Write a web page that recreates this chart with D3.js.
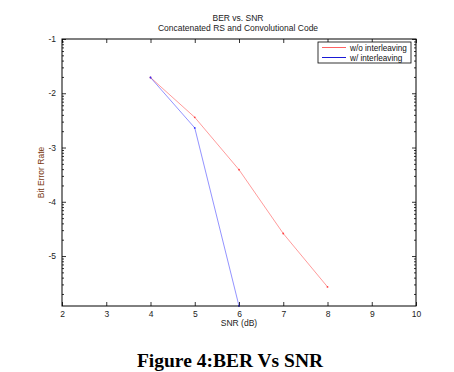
<!DOCTYPE html>
<html><head><meta charset="utf-8">
<script src="https://cdn.jsdelivr.net/npm/d3@7"></script>
<style>body{margin:0;background:#fff}svg{display:block}</style>
</head><body>
<svg id="c" width="454" height="372"></svg>
<script>
const snr = [4, 5, 6, 7, 8];
const berNoInterleave = [1.95e-2, 3.6e-3, 3.9e-4, 2.6e-5, 2.7e-6];
const snrInterleave = [4, 5, 6];
const berInterleave = [1.95e-2, 2.3e-3, 1.2e-6];
const xTicks = [2, 3, 4, 5, 6, 7, 8, 9, 10];
const yTicks = [1e-1, 1e-2, 1e-3, 1e-4, 1e-5];
const yTickLabels = ["-1", "-2", "-3", "-4", "-5"];
const seriesNames = ["w/o interleaving", "w/ interleaving"];
const titleLines = ["BER vs. SNR", "Concatenated RS and Convolutional Code"];
const xLabel = "SNR (dB)";
const yLabel = "Bit Error Rate";
const caption = "Figure 4:BER Vs SNR";

const svg = d3.select("#c");
const L = 62, R = 416, T = 39, B = 306;
const x = d3.scaleLinear().domain([2, 10]).range([L, R]);
const y = d3.scaleLog().domain([1.2e-6, 1e-1]).range([B, T]);
const font = "Liberation Sans, Arial, sans-serif";

// minor ticks
const minor = [];
for (let e = -6; e <= -2; e++) for (let k = 2; k <= 9; k++) {
  const v = k * Math.pow(10, e);
  if (v >= y.domain()[0] && v <= 1e-1) minor.push(v);
}
const g = svg.append("g");
const yAxisL = d3.axisLeft(y).tickValues(yTicks).tickSize(-4).tickPadding(6).tickFormat((d, i) => yTickLabels[i]);
const yAxisLMinor = d3.axisLeft(y).tickValues(minor).tickSize(-2).tickFormat("");
const yAxisR = d3.axisRight(y).tickValues(yTicks).tickSize(-4).tickFormat("");
const yAxisRMinor = d3.axisRight(y).tickValues(minor).tickSize(-2).tickFormat("");
const xAxisB = d3.axisBottom(x).tickValues(xTicks).tickSize(-4).tickPadding(5).tickFormat(d3.format("d"));
const xAxisT = d3.axisTop(x).tickValues(xTicks).tickSize(-4).tickFormat("");

function styleAxis(sel) {
  sel.select(".domain").remove();
  sel.selectAll("line").attr("stroke", "#000").attr("stroke-width", 0.8);
  sel.selectAll("text").attr("font-family", font).attr("font-size", 8.5).attr("fill", "#222");
}
g.append("g").attr("transform", `translate(${L},0)`).call(yAxisL).call(styleAxis);
g.append("g").attr("transform", `translate(${L},0)`).call(yAxisLMinor).call(styleAxis);
g.append("g").attr("transform", `translate(${R},0)`).call(yAxisR).call(styleAxis);
g.append("g").attr("transform", `translate(${R},0)`).call(yAxisRMinor).call(styleAxis);
g.append("g").attr("transform", `translate(0,${B})`).call(xAxisB).call(styleAxis);
g.append("g").attr("transform", `translate(0,${T})`).call(xAxisT).call(styleAxis);

// series
const line = d3.line().x(d => x(d[0])).y(d => y(d[1]));
const s1 = snr.map((v, i) => [v, berNoInterleave[i]]);
const s2 = snrInterleave.map((v, i) => [v, berInterleave[i]]);
const colors = ["#ff4040", "#3030ff"];
[s1, s2].forEach((s, i) => {
  svg.append("path").datum(s).attr("d", line).attr("fill", "none")
    .attr("stroke", colors[i]).attr("stroke-width", 0.7).attr("stroke-opacity", 0.75);
  svg.selectAll(null).data(s).enter().append("circle")
    .attr("cx", d => x(d[0])).attr("cy", d => y(d[1])).attr("r", 0.9).attr("fill", colors[i]);
});

// frame
svg.append("rect").attr("x", L).attr("y", T).attr("width", R - L).attr("height", B - T)
  .attr("fill", "none").attr("stroke", "#000").attr("stroke-width", 1);

// legend
const lg = svg.append("g");
lg.append("rect").attr("x", 318).attr("y", 42).attr("width", 93).attr("height", 21)
  .attr("fill", "#fff").attr("stroke", "#000").attr("stroke-width", 0.8);
const legColors = ["#ff5050", "#0000d0"];
seriesNames.forEach((n, i) => {
  const yy = 47.5 + i * 10;
  lg.append("line").attr("x1", 322).attr("x2", 346).attr("y1", yy).attr("y2", yy)
    .attr("stroke", legColors[i]).attr("stroke-width", 0.9);
  lg.append("text").attr("x", 350).attr("y", yy + 3).attr("font-family", font)
    .attr("font-size", 8.2).attr("fill", "#111").text(n);
});

// titles
titleLines.forEach((t, i) => {
  svg.append("text").attr("x", (L + R) / 2 - 1).attr("y", 21 + i * 10).attr("text-anchor", "middle")
    .attr("font-family", font).attr("font-size", 8.5).attr("fill", "#222").text(t);
});
svg.append("text").attr("x", (L + R) / 2).attr("y", 326).attr("text-anchor", "middle")
  .attr("font-family", font).attr("font-size", 8.5).attr("fill", "#222").text(xLabel);
svg.append("text").attr("transform", `translate(44,${(T + B) / 2}) rotate(-90)`).attr("text-anchor", "middle")
  .attr("font-family", font).attr("font-size", 8.5).attr("fill", "#7a3a10").text(yLabel);
svg.append("text").attr("x", 230).attr("y", 367).attr("text-anchor", "middle")
  .attr("font-family", "Liberation Serif, Times New Roman, serif").attr("font-weight", "bold")
  .attr("font-size", 19.5).attr("fill", "#000").text(caption);
</script>
</body></html>
